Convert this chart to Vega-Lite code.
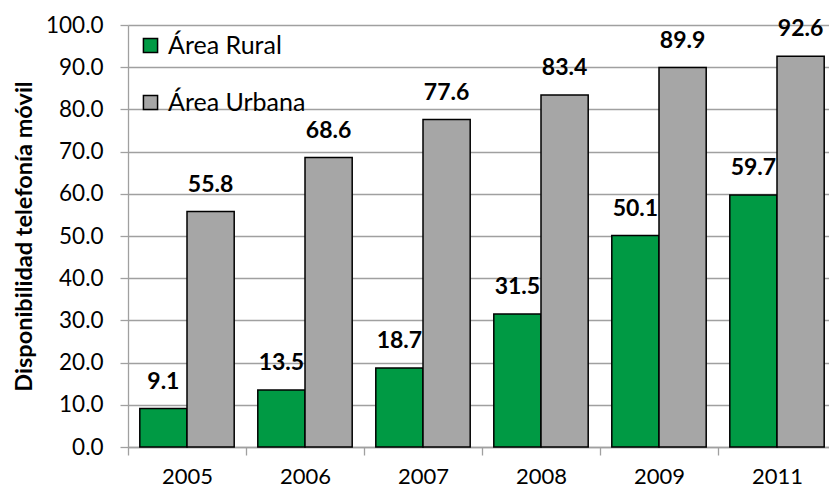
{
  "$schema": "https://vega.github.io/schema/vega-lite/v6.json",
  "width": 708,
  "height": 422,
  "autosize": "none",
  "padding": {"left": 128, "top": 25, "right": 0, "bottom": 44},
  "background": "white",
  "config": {"view": {"stroke": null}, "font": "Lato"},
  "data": {"values": [
    {"year": "2005", "area": "Área Rural", "value": 9.1},
    {"year": "2005", "area": "Área Urbana", "value": 55.8},
    {"year": "2006", "area": "Área Rural", "value": 13.5},
    {"year": "2006", "area": "Área Urbana", "value": 68.6},
    {"year": "2007", "area": "Área Rural", "value": 18.7},
    {"year": "2007", "area": "Área Urbana", "value": 77.6},
    {"year": "2008", "area": "Área Rural", "value": 31.5},
    {"year": "2008", "area": "Área Urbana", "value": 83.4},
    {"year": "2009", "area": "Área Rural", "value": 50.1},
    {"year": "2009", "area": "Área Urbana", "value": 89.9},
    {"year": "2011", "area": "Área Rural", "value": 59.7},
    {"year": "2011", "area": "Área Urbana", "value": 92.6}
  ]},
  "encoding": {
    "x": {
      "field": "year", "type": "nominal",
      "scale": {"paddingInner": 0, "paddingOuter": 0},
      "axis": {
        "title": null, "labelAngle": 0, "labelFontSize": 22, "labelColor": "black",
        "labelPadding": 11, "tickBand": "extent", "tickSize": 8, "tickColor": "#A0A0A0",
        "tickWidth": 1.3, "domainColor": "#A0A0A0", "domainWidth": 1.3, "grid": false
      }
    },
    "xOffset": {
      "field": "area", "type": "nominal",
      "scale": {"paddingOuter": 0.25, "paddingInner": 0}
    },
    "y": {
      "field": "value", "type": "quantitative",
      "scale": {"domain": [0, 100], "nice": false},
      "axis": {
        "title": "Disponibilidad telefonía móvil", "titleFontSize": 23.5, "titleFontWeight": "bold",
        "titleColor": "black", "titlePadding": 9,
        "values": [0, 10, 20, 30, 40, 50, 60, 70, 80, 90, 100], "format": ".1f",
        "labelFontSize": 22.5, "labelColor": "black", "labelPadding": 17,
        "tickSize": 8, "tickColor": "#A0A0A0", "tickWidth": 1.3, "domainColor": "#A0A0A0", "domainWidth": 1.3,
        "grid": true, "gridColor": "#A0A0A0", "gridWidth": 1.3
      }
    }
  },
  "layer": [
    {
      "mark": {"type": "bar", "stroke": "black", "strokeWidth": 1.5},
      "encoding": {
        "color": {
          "field": "area", "type": "nominal",
          "scale": {"domain": ["Área Rural", "Área Urbana"], "range": ["#009A44", "#A6A6A6"]},
          "legend": {
            "title": null, "orient": "none", "legendX": 10, "legendY": 8,
            "symbolType": "square", "symbolSize": 200, "symbolStrokeColor": "black",
            "symbolStrokeWidth": 1.5, "symbolOpacity": 1,
            "labelFontSize": 25, "labelColor": "black", "rowPadding": 31, "labelOffset": 5
          }
        }
      }
    },
    {
      "mark": {"type": "text", "fontWeight": "bold", "fontSize": 23, "dy": -27, "color": "black"},
      "encoding": {"text": {"field": "value", "type": "quantitative", "format": ".1f"}}
    }
  ]
}
